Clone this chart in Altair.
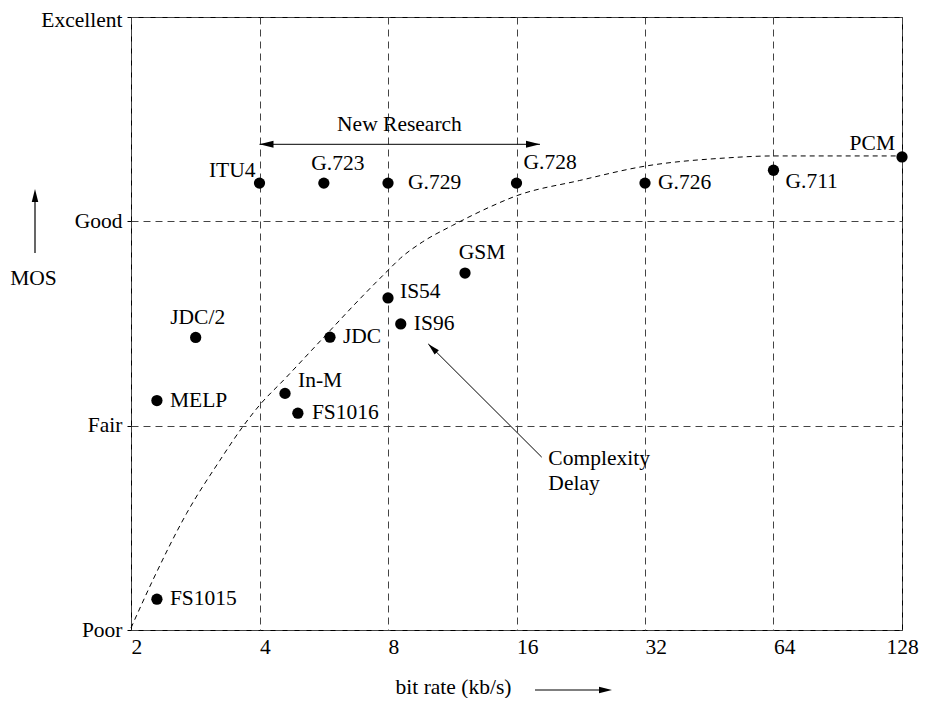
import altair as alt
import pandas as pd

# ---- data ----
names = ["FS1015", "MELP", "JDC/2", "In-M", "FS1016", "JDC", "IS54", "IS96",
         "GSM", "ITU4", "G.723", "G.729", "G.728", "G.726", "G.711", "PCM"]
rates = [2.30, 2.30, 2.835, 4.59, 4.92, 5.85, 8.0, 8.57,
         12.12, 4.0, 5.66, 8.0, 16.0, 32.0, 64.0, 128.0]
mos = [2.151, 3.123, 3.432, 3.158, 3.061, 3.433, 3.625, 3.498,
       3.747, 4.187, 4.187, 4.187, 4.187, 4.187, 4.25, 4.315]
label_align = ["left", "left", "center", "left", "left", "left", "left", "left",
               "center", "right", "center", "left", "left", "left", "left", "right"]
label_dx = [13, 13, 2, 13, 14, 13, 12, 13, 17, -4, 14, 20, 7, 13, 12, -7]
label_dy = [0, 0, -19, -12, 0, 0, -6, 0, -20, -12, -19, 0, -20, 0, 12, -13]

curve_rate = [2.0, 2.25, 2.70, 3.23, 3.64, 4.0, 4.59, 5.25, 5.85, 6.87, 8.0,
              8.56, 9.65, 11.33, 13.85, 16.0, 22.5, 32.0, 49.4, 64.0, 128.0]
curve_mos = [2.01, 2.244, 2.571, 2.83, 2.99, 3.10, 3.23, 3.36, 3.465, 3.62, 3.76,
             3.82, 3.90, 3.98, 4.07, 4.125, 4.20, 4.27, 4.31, 4.32, 4.32]

x_ticks = [2, 4, 8, 16, 32, 64, 128]
y_ticks = [2, 3, 4, 5]
y_tick_labels = ["Poor", "Fair", "Good", "Excellent"]

research_rate = [4.0, 18.16]
research_mos = 4.377
research_text = "New Research"
research_text_pos = (8.51, 4.471)

complexity_tail = (18.33, 2.846)
complexity_tip = (9.94, 3.400)
complexity_text = ["Complexity", "Delay"]
complexity_text_rate = 19.0
complexity_text_mos = [2.839, 2.716]

FONT = "Liberation Serif"
FS = 21.5
HEAD = "M0,0L0.5,2L-0.5,2Z"

pts = pd.DataFrame({"name": names, "rate": rates, "mos": mos})
curve = pd.DataFrame({"rate": curve_rate, "mos": curve_mos})

y_expr = " : ".join(f"datum.value == {v} ? '{l}'" for v, l in zip(y_ticks, y_tick_labels)) + " : ''"

xenc = alt.X("rate:Q",
             scale=alt.Scale(type="log", base=2, domain=[2, 128], nice=False),
             axis=alt.Axis(values=x_ticks, format="d",
                           labelAlign={"condition": {"test": f"datum.value == {x_ticks[-1]}", "value": "center"},
                                       "value": "left"},
                           labelPadding=6, ticks=False,
                           title="bit rate (kb/s)", titleX=322, titleY=57,
                           titleAlign="center", titleBaseline="middle",
                           grid=True))
yenc = alt.Y("mos:Q",
             scale=alt.Scale(domain=[2, 5], nice=False, zero=False),
             axis=alt.Axis(values=y_ticks, labelExpr=y_expr, tickSize=4,
                           labelOffset={"condition": {"test": f"datum.value == {y_ticks[-1]}", "value": 3},
                                        "value": 0},
                           labelPadding=5, title="MOS", titleAngle=0,
                           titleX=-98, titleY=261, titleAlign="center",
                           titleBaseline="middle", grid=True))

base_curve = alt.Chart(curve).mark_line(
    color="black", strokeWidth=1, strokeDash=[5, 4], interpolate="monotone"
).encode(x=xenc, y=yenc)

points = alt.Chart(pts).mark_circle(size=127, color="black", opacity=1).encode(
    x="rate:Q", y="mos:Q")

label_layers = []
for i, n in enumerate(names):
    label_layers.append(
        alt.Chart(pts).transform_filter(alt.datum.name == n).mark_text(
            font=FONT, fontSize=FS, color="black", align=label_align[i],
            baseline="middle", dx=label_dx[i], dy=label_dy[i]
        ).encode(x="rate:Q", y="mos:Q", text="name:N")
    )

# New Research arrow
res_df = pd.DataFrame({"rate": [research_rate[0]], "rate2": [research_rate[1]], "mos": [research_mos]})
res_line = alt.Chart(res_df).mark_rule(color="black", strokeWidth=1).encode(
    x="rate:Q", x2="rate2", y="mos:Q")
heads_df = pd.DataFrame({
    "rate": [research_rate[0], research_rate[1], complexity_tip[0]],
    "mos": [research_mos, research_mos, complexity_tip[1]],
    "ang": [270, 90, 315],
    "sz": [196, 196, 144],
})
heads = alt.Chart(heads_df).mark_point(shape=HEAD, filled=True, color="black", opacity=1).encode(
    x="rate:Q", y="mos:Q", angle=alt.Angle("ang:Q", scale=None), size=alt.Size("sz:Q", scale=None))
res_text = alt.Chart(pd.DataFrame({"rate": [research_text_pos[0]], "mos": [research_text_pos[1]], "t": [research_text]})).mark_text(
    font=FONT, fontSize=FS, color="black", align="center", baseline="middle"
).encode(x="rate:Q", y="mos:Q", text="t:N")

# Complexity / Delay arrow
cx_df = pd.DataFrame({"rate": [complexity_tail[0]], "mos": [complexity_tail[1]],
                      "rate2": [complexity_tip[0]], "mos2": [complexity_tip[1]]})
cx_line = alt.Chart(cx_df).mark_rule(color="black", strokeWidth=1).encode(
    x="rate:Q", y="mos:Q", x2="rate2", y2="mos2")
cx_text = alt.Chart(pd.DataFrame({"rate": [complexity_text_rate] * 2, "mos": complexity_text_mos, "t": complexity_text})).mark_text(
    font=FONT, fontSize=FS, color="black", align="left", baseline="middle"
).encode(x="rate:Q", y="mos:Q", text="t:N")

# axis-title arrows (outside the plot)
one = pd.DataFrame({"a": [0]})
mos_arrow = alt.Chart(one).mark_rule(color="black", strokeWidth=1.2).encode(
    x=alt.value(-96), y=alt.value(236), y2=alt.value(181))
mos_head = alt.Chart(one).mark_point(shape=HEAD, filled=True, color="black", opacity=1, size=169, angle=0).encode(
    x=alt.value(-96), y=alt.value(172))
x_arrow = alt.Chart(one).mark_rule(color="black", strokeWidth=1.2).encode(
    x=alt.value(404), x2=alt.value(472), y=alt.value(673))
x_head = alt.Chart(one).mark_point(shape=HEAD, filled=True, color="black", opacity=1, size=169, angle=90).encode(
    x=alt.value(481), y=alt.value(673))

chart = alt.layer(
    base_curve, points, *label_layers, res_line, heads, res_text, cx_line, cx_text,
    mos_arrow, mos_head, x_arrow, x_head
).properties(
    width=771, height=613,
    autosize=alt.AutoSizeParams(type="none"),
    padding={"left": 123, "top": 9, "right": 24, "bottom": 68},
).configure(font=FONT).configure_view(
    stroke="black", strokeWidth=1
).configure_axis(
    domain=False, gridColor="#444", gridDash=[7, 5], gridWidth=1,
    labelFont=FONT, labelFontSize=FS, labelColor="black",
    titleFont=FONT, titleFontSize=FS, titleFontWeight="normal", titleColor="black",
    tickColor="black",
)

chart.save("out.html", embed_options={"renderer": "svg", "actions": False})
